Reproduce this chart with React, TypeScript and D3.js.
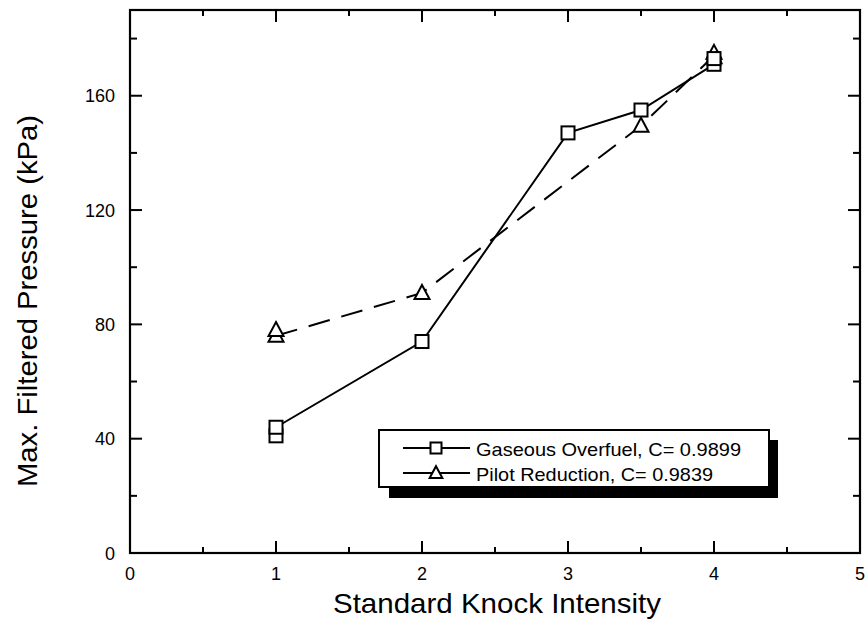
import React from "react";
import * as d3 from "d3";

const W = 868, H = 636;
const xTicks = [0, 1, 2, 3, 4, 5];
const yTicks = [0, 40, 80, 120, 160];
const xMinor = [0.5, 1.5, 2.5, 3.5, 4.5];
const yMinor = [20, 60, 100, 140, 180];

// Gaseous Overfuel
const goX = [1, 1, 2, 3, 3.5, 4, 4];
const goY = [41, 44, 74, 147, 155, 171, 173];
const goLineX = [1, 2, 3, 3.5, 4];
const goLineY = [44, 74, 147, 155, 171];
// Pilot Reduction
const prX = [1, 1, 2, 3.5, 4, 4];
const prY = [76, 78, 91, 149.5, 173.5, 175];
const prLineX = [1, 2, 3.5, 4];
const prLineY = [76, 91, 149.5, 174];

const legendLabels = ["Gaseous Overfuel, C= 0.9899", "Pilot Reduction, C= 0.9839"];
const legendWidths = [265, 237];

export default function App() {
  const L = 130, R = 860, T = 10, B = 553;
  const x = d3.scaleLinear().domain([0, 5]).range([L, R]);
  const y = d3.scaleLinear().domain([0, 190]).range([B, T]);
  const line = d3.line<[number, number]>().x(d => x(d[0])).y(d => y(d[1]));
  const font = "'Liberation Sans', Arial, Helvetica, sans-serif";
  const sq = (cx: number, cy: number, k: string, s = 6.5) => (
    <rect key={k} x={cx - s} y={cy - s} width={2 * s} height={2 * s} fill="white" stroke="black" strokeWidth={2} />
  );
  const tri = (cx: number, cy: number, k: string, s = 1) => (
    <path key={k} d={`M${cx},${cy - 8 * s}L${cx + 7.5 * s},${cy + 6 * s}L${cx - 7.5 * s},${cy + 6 * s}Z`} fill="white" stroke="black" strokeWidth={2} />
  );
  return (
    <svg width={W} height={H} style={{ position: "absolute", left: 0, top: 0, background: "white" }} fontFamily={font}>
      <rect x={0} y={0} width={W} height={H} fill="white" />
      {/* frame */}
      <rect x={L} y={T} width={R - L} height={B - T} fill="none" stroke="black" strokeWidth={2.2} />
      {/* x ticks */}
      {xTicks.map(t => (
        <g key={"xt" + t}>
          <line x1={x(t)} x2={x(t)} y1={B} y2={B - 12} stroke="black" strokeWidth={2} />
          <line x1={x(t)} x2={x(t)} y1={T} y2={T + 12} stroke="black" strokeWidth={2} />
          <text x={x(t)} y={580} textAnchor="middle" fontSize={18}>{t}</text>
        </g>
      ))}
      {xMinor.map(t => (
        <g key={"xm" + t}>
          <line x1={x(t)} x2={x(t)} y1={B} y2={B - 6} stroke="black" strokeWidth={2} />
          <line x1={x(t)} x2={x(t)} y1={T} y2={T + 6} stroke="black" strokeWidth={2} />
        </g>
      ))}
      {yTicks.map(t => (
        <g key={"yt" + t}>
          <line x1={L} x2={L + 12} y1={y(t)} y2={y(t)} stroke="black" strokeWidth={2} />
          <line x1={R} x2={R - 12} y1={y(t)} y2={y(t)} stroke="black" strokeWidth={2} />
          <text x={115} y={y(t) + 6.5} textAnchor="end" fontSize={18}>{t}</text>
        </g>
      ))}
      {yMinor.map(t => (
        <g key={"ym" + t}>
          <line x1={L} x2={L + 7} y1={y(t)} y2={y(t)} stroke="black" strokeWidth={2} />
          <line x1={R} x2={R - 7} y1={y(t)} y2={y(t)} stroke="black" strokeWidth={2} />
        </g>
      ))}
      {/* lines */}
      <path d={line(goLineX.map((v, i) => [v, goLineY[i]]) as any) || ""} fill="none" stroke="black" strokeWidth={2} />
      <path d={line(prLineX.map((v, i) => [v, prLineY[i]]) as any) || ""} fill="none" stroke="black" strokeWidth={2} strokeDasharray="22,12" />
      {/* markers */}
      {prX.map((v, i) => tri(x(v), y(prY[i]), "p" + i))}
      {goX.map((v, i) => sq(x(v), y(goY[i]), "g" + i))}
      {/* legend */}
      <rect x={389} y={440} width={389} height={58} fill="black" />
      <rect x={379} y={430} width={390} height={57} fill="white" stroke="black" strokeWidth={2} />
      <line x1={403} x2={470} y1={448} y2={448} stroke="black" strokeWidth={1.8} />
      {sq(436, 448, "lg1", 5.5)}
      <line x1={403} x2={470} y1={473} y2={473} stroke="black" strokeWidth={1.8} />
      {tri(436, 473, "lg2", 0.85)}
      {legendLabels.map((s, i) => (
        <text key={s} x={476} y={456 + i * 25} fontSize={19} textLength={legendWidths[i]} lengthAdjust="spacingAndGlyphs">{s}</text>
      ))}
      {/* axis titles */}
      <text x={497} y={613} textAnchor="middle" fontSize={28} textLength={328} lengthAdjust="spacingAndGlyphs">Standard Knock Intensity</text>
      <text transform={`translate(37,${301}) rotate(-90)`} textAnchor="middle" fontSize={28} textLength={372} lengthAdjust="spacingAndGlyphs">Max. Filtered Pressure (kPa)</text>
    </svg>
  );
}
